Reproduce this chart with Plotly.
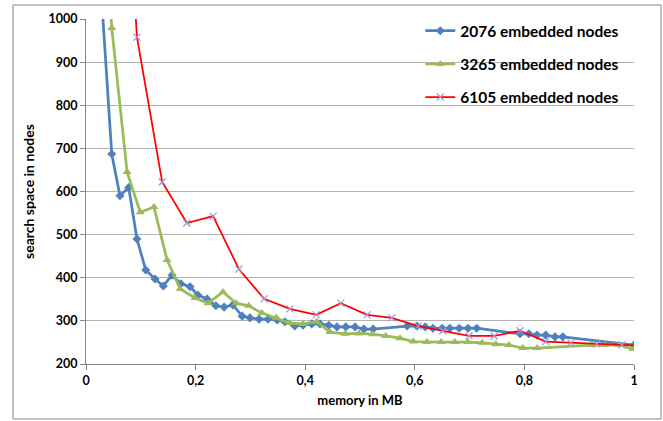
import plotly.graph_objects as go

# ---- data ----
x_2076 = [0.016, 0.047, 0.062, 0.078, 0.093, 0.109, 0.126, 0.141, 0.157, 0.173, 0.190,
          0.204, 0.221, 0.237, 0.252, 0.268, 0.285, 0.299, 0.316, 0.332, 0.349, 0.363,
          0.381, 0.396, 0.412, 0.427, 0.443, 0.458, 0.474, 0.491, 0.507, 0.524,
          0.586, 0.604, 0.619, 0.633, 0.650, 0.664, 0.681, 0.697, 0.713,
          0.792, 0.808, 0.823, 0.839, 0.856, 0.870, 1.0]
y_2076 = [1290, 687, 590, 609, 490, 418, 397, 381, 406, 386, 379,
          360, 351, 335, 332, 337, 311, 307, 304, 304, 302, 298,
          288, 290, 293, 293, 290, 286, 286, 286, 281, 281,
          288, 288, 286, 283, 283, 283, 283, 283, 283,
          270, 270, 267, 267, 263, 263, 244]

x_3265 = [0.025, 0.047, 0.075, 0.099, 0.124, 0.148, 0.172, 0.199, 0.223, 0.250, 0.274,
          0.297, 0.321, 0.347, 0.372, 0.396, 0.421, 0.445, 0.473, 0.498, 0.523,
          0.547, 0.573, 0.597, 0.622, 0.648, 0.673, 0.697, 0.723, 0.748, 0.772,
          0.797, 0.823, 0.923, 0.947, 0.973, 0.998]
y_3265 = [1500, 979, 645, 552, 564, 441, 374, 353, 341, 367, 341,
          335, 318, 307, 295, 293, 298, 274, 270, 271, 269,
          265, 260, 252, 251, 251, 251, 251, 249, 246, 244,
          237, 237, 244, 244, 244, 235]

x_6105 = [0.047, 0.093, 0.139, 0.184, 0.232, 0.279, 0.325, 0.372, 0.420, 0.465, 0.513,
          0.558, 0.606, 0.651, 0.699, 0.745, 0.792, 0.839, 0.885, 0.932, 0.978, 1.025]
y_6105 = [1900, 958, 622, 527, 543, 420, 351, 328, 314, 341, 314,
          307, 288, 277, 265, 265, 277, 252, 249, 246, 244, 242]

series_names = ["2076 embedded nodes", "3265 embedded nodes", "6105 embedded nodes"]
x_ticks = [0, 0.2, 0.4, 0.6, 0.8, 1]
y_ticks = [200, 300, 400, 500, 600, 700, 800, 900, 1000]

FONT = "Lato"

fig = go.Figure()
fig.add_trace(go.Scatter(
    x=x_2076, y=y_2076, name=series_names[0], mode="lines+markers", legendgroup="a",
    line=dict(color="#4f81bd", width=2.75),
    marker=dict(symbol="diamond", size=7, color="#4f81bd")))
fig.add_trace(go.Scatter(
    x=x_3265, y=y_3265, name=series_names[1], mode="lines+markers", legendgroup="b",
    line=dict(color="#9bbb59", width=2.75),
    marker=dict(symbol="triangle-up", size=8, color="#9bbb59")))
fig.add_trace(go.Scatter(
    x=x_6105, y=y_6105, name=series_names[2], mode="lines+markers", legendgroup="c",
    line=dict(color="#ff0000", width=1.75),
    marker=dict(symbol="x-thin", size=7, color="#a493d2",
                line=dict(color="#a493d2", width=1.2))))

fig.update_layout(
    width=663, height=421,
    margin=dict(l=86, r=29, t=19, b=57),
    paper_bgcolor="white", plot_bgcolor="white",
    separators=", ",
    font=dict(family=FONT, size=12, color="black"),
    showlegend=True,
    legend=dict(x=0.61, y=1.014, xanchor="left", yanchor="top",
                font=dict(family=FONT, size=15.5, color="black", weight="bold"),
                tracegroupgap=10, itemwidth=30, bgcolor="rgba(0,0,0,0)"),
    xaxis=dict(range=[0, 1], tickvals=x_ticks, showgrid=False, zeroline=False,
               showline=True, linecolor="#868686", linewidth=1,
               ticks="outside", ticklen=5, tickcolor="#868686",
               tickfont=dict(family=FONT, size=12.5, weight="bold"),
               title=dict(text="memory in MB", standoff=8,
                          font=dict(family=FONT, size=13, weight="bold"))),
    yaxis=dict(range=[200, 1000], tickvals=y_ticks, showgrid=True,
               gridcolor="#b3b3b3", gridwidth=1, zeroline=False,
               showline=True, linecolor="#868686", linewidth=1,
               ticks="outside", ticklen=5, tickcolor="#868686",
               tickfont=dict(family=FONT, size=12.5, weight="bold"),
               title=dict(text="search space in nodes", standoff=10,
                          font=dict(family=FONT, size=14, weight="bold"))),
    shapes=[dict(type="rect", xref="paper", yref="paper",
                 x0=-0.1332, x1=1.0493, y0=-0.1594, y1=1.0406,
                 line=dict(color="#868686", width=1), layer="below")],
)

fig.write_html("out.html")
